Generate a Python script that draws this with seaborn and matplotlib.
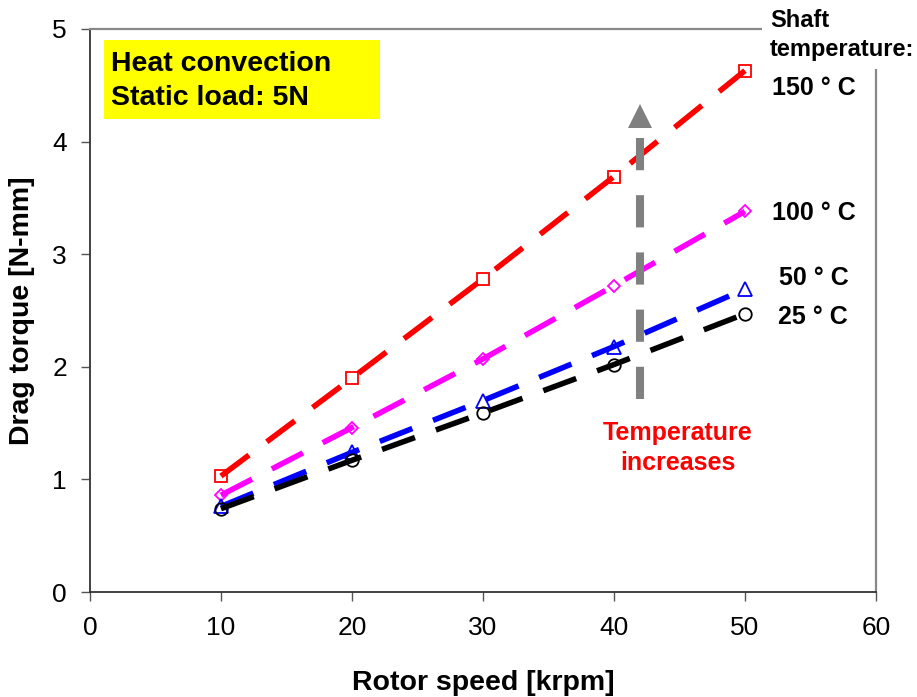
import numpy as np
import pandas as pd
import seaborn as sns
import matplotlib.pyplot as plt
from matplotlib.patches import Rectangle

# data
speed = [10, 20, 30, 40, 50]
torque_150 = [1.03, 1.90, 2.78, 3.69, 4.63]
torque_100 = [0.86, 1.46, 2.07, 2.72, 3.38]
torque_50 = [0.76, 1.24, 1.70, 2.18, 2.69]
torque_25 = [0.74, 1.17, 1.59, 2.02, 2.47]

series_labels = ["150 ° C", "100 ° C", "50 ° C", "25 ° C"]
series_colors = ["#FF0000", "#FF00FF", "#0000FF", "#000000"]
series_markers = ["s", "D", "^", "o"]
marker_sizes = [9, 6.5, 9.5, 9]
label_pos = [(52.1, 4.48), (52.05, 3.37), (52.6, 2.79), (52.5, 2.44)]

x_ticks = [0, 10, 20, 30, 40, 50, 60]
y_ticks = [0, 1, 2, 3, 4, 5]

sns.set_style("ticks")
plt.rcParams["font.family"] = ["Liberation Sans", "DejaVu Sans"]
plt.rcParams["text.color"] = "black"
plt.rcParams["axes.labelcolor"] = "black"

fig = plt.figure(figsize=(9.17, 6.97), dpi=100)
ax = fig.add_axes([0.0981, 0.1506, 0.8571, 0.8078])

all_torque = [torque_150, torque_100, torque_50, torque_25]
for torque, col, mk, ms in zip(all_torque, series_colors, series_markers, marker_sizes):
    sns.lineplot(x=speed, y=torque, ax=ax, color=col, lw=4,
                 linestyle=(0, (6.3, 4)), marker=mk, markersize=ms,
                 markerfacecolor="none", markeredgecolor=col,
                 markeredgewidth=1.3, zorder=3)

for lab, (lx, ly) in zip(series_labels, label_pos):
    ax.text(lx, ly, lab, fontsize=18, fontweight="bold", ha="left",
            va="center", clip_on=False, zorder=6)

# "temperature increases" arrow
ax.plot([42, 42], [1.71, 4.05], color="#808080", lw=5.8,
        linestyle=(0, (4, 3.1)), solid_capstyle="butt", zorder=4)
ax.plot([42], [4.23], marker="^", markersize=17, color="#808080",
        markeredgewidth=0, zorder=4)
ax.text(44.9, 1.28, "Temperature\nincreases", color="#FF0000", fontsize=18,
        fontweight="bold", ha="center", va="center", linespacing=1.35, zorder=6)

# yellow info box
ax.add_patch(Rectangle((0.0178, 0.8401), 0.351, 0.1404, transform=ax.transAxes,
                       facecolor="#FFFF00", edgecolor="none", zorder=4))
ax.text(0.0267, 0.9076, "Heat convection\nStatic load: 5N", transform=ax.transAxes,
        fontsize=20.5, fontweight="bold", ha="left", va="center",
        linespacing=1.42, zorder=5)

ax.text(51.9, 4.95, "Shaft\ntemperature:", fontsize=17, fontweight="bold",
        ha="left", va="center", linespacing=1.32, clip_on=False, zorder=6,
        bbox=dict(facecolor="white", edgecolor="none", pad=6))

ax.set_xlim(0, 60)
ax.set_ylim(0, 5)
ax.set_xticks(x_ticks)
ax.set_yticks(y_ticks)
ax.tick_params(axis="both", direction="out", length=6.5, width=1,
               color="#555555", labelcolor="black", labelsize=19)
ax.tick_params(axis="x", pad=11)
ax.tick_params(axis="y", pad=10)

for side in ["left", "bottom"]:
    ax.spines[side].set_color("#333333")
    ax.spines[side].set_linewidth(1.3)
for side in ["top", "right"]:
    ax.spines[side].set_visible(True)
    ax.spines[side].set_color("#888888")
    ax.spines[side].set_linewidth(1.6)

ax.set_xlabel("Rotor speed [krpm]", fontsize=20.5, fontweight="bold")
ax.set_ylabel("Drag torque [N-mm]", fontsize=20.5, fontweight="bold")
ax.xaxis.label.set_va("center")
ax.yaxis.label.set_va("center")
ax.xaxis.set_label_coords(0.5, -0.1616)
ax.yaxis.set_label_coords(-0.0864, 0.5)

fig.savefig("out.png", dpi=100)
